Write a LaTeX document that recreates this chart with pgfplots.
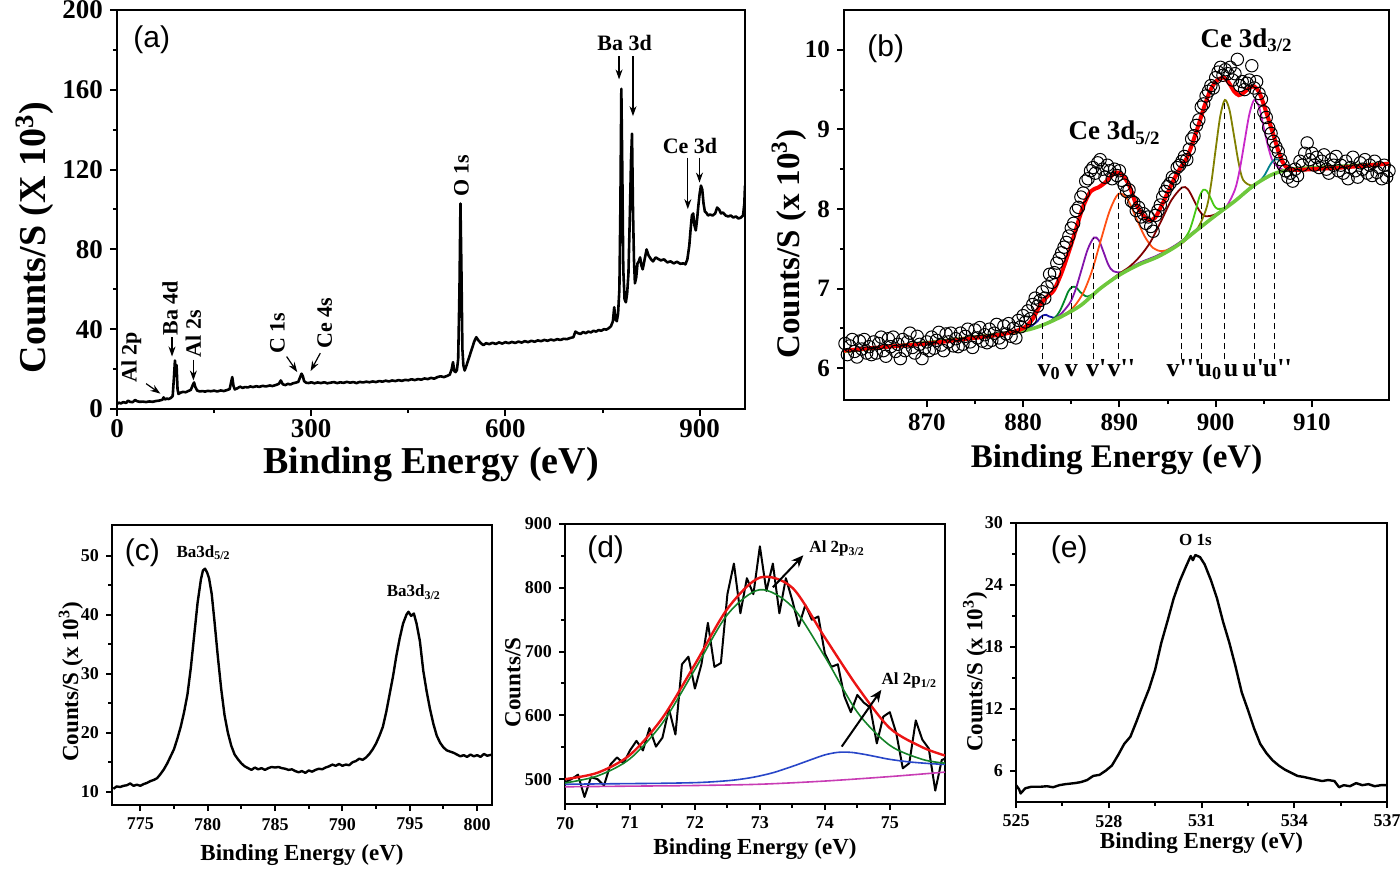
\documentclass[border=0pt]{standalone}
\usepackage{fontspec}
\setmainfont{Liberation Serif}
\newfontfamily\sansf{Liberation Sans}
\usepackage{pgfplots}
\pgfplotsset{compat=1.18}
\usetikzlibrary{arrows.meta}
\definecolor{cRed}{RGB}{255,0,0}
\definecolor{cNavy}{RGB}{20,20,170}
\definecolor{cDGreen}{RGB}{0,135,40}
\definecolor{cPurple}{RGB}{130,20,170}
\definecolor{cOrange}{RGB}{255,80,20}
\definecolor{cBrown}{RGB}{128,0,0}
\definecolor{cLGreen}{RGB}{70,200,20}
\definecolor{cOlive}{RGB}{128,128,0}
\definecolor{cMagenta}{RGB}{200,40,200}
\definecolor{cTeal}{RGB}{0,128,140}
\definecolor{cBkg}{RGB}{110,200,60}
\definecolor{dRed}{RGB}{235,20,20}
\definecolor{dGreen}{RGB}{20,130,40}
\definecolor{dBlue}{RGB}{40,70,200}
\definecolor{dMag}{RGB}{200,60,180}
\pgfplotsset{
  xps/.style={
    scale only axis, axis line style={line width=1.3pt},
    tick align=outside, xtick pos=bottom, ytick pos=left,
    major tick length=3.5pt, minor tick length=2pt,
    tick style={black, line width=1pt},
    minor tick num=1,
    /pgf/number format/assume math mode=true,
    /pgf/number format/1000 sep={},
    xlabel style={anchor=center},
    ylabel style={anchor=center},
  },
  top/.style={xps,
    tick label style={font=\bfseries\fontsize{13.5}{13.5}\selectfont},
  },
  bot/.style={xps, axis line style={line width=1.2pt},
    major tick length=3pt, minor tick length=1.8pt,
    tick label style={font=\bfseries\fontsize{9}{9}\selectfont},
    label style={font=\bfseries\fontsize{11.5}{11.5}\selectfont},
  },
}
\begin{document}
\begin{tikzpicture}
\path[use as bounding box] (0,0) rectangle (700pt,434.5pt);
% ---------------- (a) ----------------
\begin{axis}[top, anchor=south west, at={(58.5pt,230pt)}, width=314pt, height=199.5pt,
  xmin=0, xmax=970, ymin=0, ymax=200,
  xtick={0,300,600,900}, ytick={0,40,80,120,160,200},
  xticklabel style={yshift=2pt},
  xlabel={Binding Energy (eV)}, ylabel={Counts/S (X 10\textsuperscript{3})},
  xlabel style={at={(axis description cs:0.5,-0.138)}},
  ylabel style={at={(axis description cs:-0.131,0.43)}},
  label style={font=\bfseries\fontsize{19}{19}\selectfont},
]
\addplot[black, line width=1.3pt, line join=round] coordinates {
(0,2.5)(3,3.2)(6,2.8)(10,3.5)(14,3.0)(17,4.2)(20,3.6)(24,3.4)(28,4.5)(31,3.9)(35,3.6)(40,3.7)(45,3.5)(50,3.8)(55,3.6)(60,4.0)(65,4.2)(70,4.6)(72,5.8)(74,4.8)(77,5.2)(80,5.0)(83,5.5)(86,6.5)(88,16)(89.5,24.3)(91,18)(92,22)(93.5,10)(95,7.5)(98,8.2)(102,8.6)(106,8.4)(110,9.0)(114,9.6)(117,12.0)(119,13.3)(121,11.0)(124,9.2)(128,8.8)(132,9.0)(136,8.7)(140,9.1)(145,8.9)(150,9.2)(155,8.8)(160,9.3)(165,9.0)(170,9.5)(174,10.0)(176,13.0)(178,16.0)(180,11.5)(182,9.8)(186,10.4)(190,11.2)(194,10.6)(198,11.0)(202,10.8)(206,11.3)(210,11.0)(215,11.4)(220,11.1)(225,11.6)(230,11.3)(236,11.8)(240,11.5)(245,12.0)(250,12.6)(253,14.3)(256,12.4)(260,12.0)(264,12.6)(268,12.3)(272,12.9)(276,13.2)(280,13.6)(283,16.0)(285,17.7)(287,16.5)(289,14.0)(292,13.2)(296,13.0)(300,13.4)(305,12.9)(310,13.3)(315,13.0)(320,13.4)(325,12.9)(330,13.2)(335,13.5)(340,13.0)(345,13.4)(350,13.1)(355,13.6)(360,13.2)(365,13.5)(370,13.0)(375,13.6)(380,13.3)(385,13.7)(390,13.4)(395,13.8)(400,13.5)(405,14.0)(410,13.7)(415,14.2)(420,13.8)(425,14.3)(430,14.0)(435,14.5)(440,14.1)(445,14.6)(450,14.4)(455,14.9)(460,14.5)(465,15.0)(470,14.7)(475,15.3)(480,15.0)(485,15.6)(490,15.2)(495,16.0)(500,16.4)(505,16.0)(510,16.6)(514,17.2)(517,20.0)(519,23.5)(521,19.0)(523,18.5)(525,19.5)(527,25.0)(529,60.0)(530.5,103.0)(532,70.0)(533.5,30.0)(535,22.0)(537,19.3)(540,22.0)(543,25.0)(546,28.0)(549,31.0)(552,34.0)(555,36.0)(558,34.5)(562,33.0)(566,32.0)(570,33.0)(575,32.5)(580,33.2)(585,32.6)(590,33.4)(595,32.8)(600,33.5)(605,33.0)(610,33.6)(615,33.1)(620,33.8)(625,33.3)(630,34.0)(635,33.5)(640,34.2)(645,33.7)(650,34.4)(655,34.0)(660,34.6)(665,34.2)(670,34.8)(675,34.4)(680,35.0)(685,34.6)(690,35.2)(695,35.0)(700,35.6)(705,36.0)(708,38.8)(712,38.0)(716,37.6)(720,38.6)(724,38.0)(728,38.8)(732,38.4)(736,39.2)(740,38.8)(744,39.6)(748,39.2)(752,40.0)(756,39.8)(760,40.6)(763,41.5)(766,44.0)(768,51.0)(770,45.0)(772,44.0)(774,48.0)(776,60.0)(777.5,100.0)(779,160.5)(780.5,120.0)(782,70.0)(784,55.0)(786,53.5)(788,58.0)(790,68.0)(792,95.0)(794,125.0)(795.5,138.0)(797,100.0)(798.5,75.0)(800,63.0)(802,66.0)(804,73.0)(806,74.0)(808,76.0)(810,72.0)(812,70.0)(815,75.0)(818,80.0)(821,77.0)(825,75.0)(828,74.0)(832,76.0)(836,75.2)(840,74.5)(845,75.0)(850,73.5)(855,74.0)(860,73.0)(865,73.8)(870,72.8)(875,73.0)(878,72.5)(881,75.0)(884,82.0)(886,90.0)(888,97.0)(890,98.0)(892,92.0)(894,89.5)(896,95.0)(898,102.0)(900,108.0)(902,112.0)(904,110.0)(906,103.0)(908,99.0)(910,98.5)(913,97.0)(916,97.5)(920,97.0)(924,98.0)(927,101.0)(930,100.0)(933,98.0)(936,98.5)(940,97.0)(944,96.5)(948,97.0)(952,96.0)(956,96.5)(960,95.5)(964,96.0)(967,97.0)(969,103.0)(970,112.0)
};
\tikzset{ann/.style={font=\bfseries\fontsize{11}{11}\selectfont}, arr/.style={-{Stealth[length=5pt,width=3.5pt]}, line width=0.6pt}}
\node[ann, rotate=90] at (axis cs:22,26) {Al 2p};
\draw[arr] (axis cs:45,12.7) -- (axis cs:67,7.7);
\node[ann, rotate=90] at (axis cs:82,50.5) {Ba 4d};
\draw[arr] (axis cs:85,36) -- (axis cs:85,26.3);
\node[ann, rotate=90] at (axis cs:118,37.7) {Al 2s};
\draw[arr] (axis cs:118,24.7) -- (axis cs:118,14.3);
\node[ann, rotate=90] at (axis cs:248,38) {C 1s};
\draw[arr] (axis cs:262,26.3) -- (axis cs:278.4,18.5);
\node[ann, rotate=90] at (axis cs:321,43) {Ce 4s};
\draw[arr] (axis cs:314,28) -- (axis cs:299,19);
\node[ann, rotate=90] at (axis cs:532,117) {O 1s};
\node[ann] at (axis cs:784,183.5) {Ba 3d};
\draw[arr] (axis cs:775.5,176.8) -- (axis cs:775.5,165.2);
\draw[arr] (axis cs:797,176.8) -- (axis cs:797,146.8);
\node[ann] at (axis cs:885,132) {Ce 3d};
\draw[arr] (axis cs:881.7,126) -- (axis cs:881.7,100.2);
\draw[arr] (axis cs:899.7,126) -- (axis cs:899.7,113.5);
\node[anchor=west, font=\sansf\fontsize{15}{15}\selectfont] at (rel axis cs:0.015,0.925) {(a)};
\end{axis}
% ---------------- (b) ----------------
\begin{axis}[top, anchor=south west, at={(422pt,234.5pt)}, width=272.5pt, height=195pt,
  xmin=861.4, xmax=918, ymin=5.6, ymax=10.5,
  xtick={870,880,890,900,910}, ytick={6,7,8,9,10},
  tick label style={font=\bfseries\fontsize{12.5}{12.5}\selectfont},
  xlabel={Binding Energy (eV)}, ylabel={Counts/S (x 10\textsuperscript{3})},
  xlabel style={at={(axis description cs:0.5,-0.154)}},
  ylabel style={at={(axis description cs:-0.101,0.40)}},
  label style={font=\bfseries\fontsize{16.5}{16.5}\selectfont},
]
\addplot[only marks, mark=o, mark size=3.1pt, mark options={line width=0.5pt, black}] coordinates {
(861.50,6.31)(861.75,6.17)(862.00,6.28)(862.25,6.36)(862.50,6.21)(862.75,6.14)(863.00,6.34)(863.25,6.24)(863.50,6.36)(863.75,6.19)(864.00,6.27)(864.25,6.17)(864.50,6.33)(864.75,6.19)(865.00,6.31)(865.25,6.39)(865.50,6.22)(865.75,6.15)(866.00,6.37)(866.25,6.27)(866.50,6.39)(866.75,6.21)(867.00,6.30)(867.25,6.12)(867.50,6.36)(867.75,6.22)(868.00,6.33)(868.25,6.44)(868.50,6.26)(868.75,6.19)(869.00,6.40)(869.25,6.30)(869.50,6.12)(869.75,6.25)(870.00,6.33)(870.25,6.22)(870.50,6.39)(870.75,6.25)(871.00,6.35)(871.25,6.45)(871.50,6.29)(871.75,6.22)(872.00,6.43)(872.25,6.33)(872.50,6.44)(872.75,6.28)(873.00,6.37)(873.25,6.27)(873.50,6.44)(873.75,6.30)(874.00,6.40)(874.25,6.49)(874.50,6.33)(874.75,6.26)(875.00,6.48)(875.25,6.38)(875.50,6.51)(875.75,6.34)(876.00,6.42)(876.25,6.32)(876.50,6.49)(876.75,6.35)(877.00,6.44)(877.25,6.55)(877.50,6.38)(877.75,6.32)(878.00,6.53)(878.25,6.43)(878.50,6.56)(878.75,6.40)(879.00,6.50)(879.25,6.38)(879.50,6.60)(879.75,6.52)(880.00,6.66)(880.25,6.58)(880.50,6.72)(880.75,6.62)(881.00,6.80)(881.25,6.88)(881.50,6.78)(881.75,6.85)(882.00,6.96)(882.25,6.88)(882.50,7.02)(882.75,7.18)(883.00,7.08)(883.25,7.20)(883.50,7.32)(883.75,7.38)(884.00,7.45)(884.25,7.52)(884.50,7.58)(884.75,7.66)(885.00,7.76)(885.25,7.82)(885.50,7.98)(885.75,8.02)(886.00,8.15)(886.25,8.20)(886.50,8.35)(886.75,8.38)(887.00,8.48)(887.25,8.52)(887.50,8.45)(887.75,8.58)(888.00,8.62)(888.25,8.50)(888.50,8.40)(888.75,8.55)(889.00,8.48)(889.25,8.38)(889.50,8.50)(889.75,8.42)(890.00,8.48)(890.25,8.36)(890.50,8.30)(890.75,8.22)(891.00,8.24)(891.25,8.10)(891.50,8.08)(891.75,7.98)(892.00,8.02)(892.25,7.90)(892.50,7.94)(892.75,7.82)(893.00,7.90)(893.25,7.78)(893.50,7.72)(893.75,7.92)(894.00,7.98)(894.25,8.05)(894.50,8.15)(894.75,8.22)(895.00,8.28)(895.25,8.32)(895.50,8.40)(895.75,8.38)(896.00,8.52)(896.25,8.55)(896.50,8.60)(896.75,8.66)(897.00,8.62)(897.25,8.75)(897.50,8.88)(897.75,8.92)(898.00,9.05)(898.25,9.12)(898.50,9.28)(898.75,9.32)(899.00,9.42)(899.25,9.48)(899.50,9.55)(899.75,9.52)(900.00,9.65)(900.25,9.72)(900.50,9.78)(900.75,9.68)(901.00,9.75)(901.25,9.70)(901.50,9.78)(901.75,9.62)(902.00,9.70)(902.25,9.88)(902.50,9.55)(902.75,9.60)(903.00,9.50)(903.25,9.58)(903.50,9.62)(903.75,9.80)(904.00,9.52)(904.25,9.60)(904.50,9.45)(904.75,9.38)(905.00,9.22)(905.25,9.15)(905.50,9.02)(905.75,8.95)(906.00,8.85)(906.25,8.78)(906.50,8.72)(906.75,8.62)(907.00,8.55)(907.25,8.48)(907.50,8.40)(907.75,8.45)(908.00,8.35)(908.25,8.50)(908.50,8.42)(908.75,8.60)(909.00,8.55)(909.25,8.70)(909.50,8.83)(909.75,8.62)(910.00,8.70)(910.25,8.55)(910.50,8.65)(910.75,8.52)(911.00,8.60)(911.25,8.68)(911.50,8.50)(911.75,8.45)(912.00,8.62)(912.25,8.55)(912.50,8.66)(912.75,8.48)(913.00,8.55)(913.25,8.45)(913.50,8.60)(913.75,8.38)(914.00,8.52)(914.25,8.65)(914.50,8.48)(914.75,8.40)(915.00,8.58)(915.25,8.50)(915.50,8.62)(915.75,8.45)(916.00,8.55)(916.25,8.42)(916.50,8.60)(916.75,8.46)(917.00,8.52)(917.25,8.38)(917.50,8.55)(917.75,8.40)(918.00,8.48)
};
% components
\addplot[cNavy, line width=0.9pt, smooth] coordinates {(879.5,6.46)(880.3,6.48)(880.9,6.53)(881.2,6.56)(881.5,6.59)(881.8,6.64)(882.1,6.665)(882.4,6.67)(882.7,6.65)(883.0,6.64)(883.3,6.63)(883.9,6.64)(884.5,6.68)};
\addplot[cDGreen, line width=0.9pt, smooth] coordinates {(881.5,6.52)(882.7,6.58)(883.5,6.66)(883.9,6.74)(884.3,6.85)(884.7,6.965)(885.1,7.02)(885.5,7.015)(885.9,6.96)(886.3,6.92)(886.7,6.90)(887.5,6.95)(888.5,7.05)};
\addplot[cPurple, line width=0.9pt, smooth] coordinates {(881.5,6.52)(883.45,6.63)(884.75,6.80)(885.4,6.97)(886.05,7.23)(886.7,7.49)(887.35,7.64)(887.85,7.61)(888.35,7.46)(888.85,7.30)(889.35,7.22)(890.35,7.21)(892,7.32)(894,7.42)(896,7.56)(898,7.74)};
\addplot[cOrange, line width=0.9pt, smooth] coordinates {(883,6.60)(884.5,6.69)(885.4,6.79)(886.3,6.96)(887.2,7.24)(888.1,7.62)(889.0,7.98)(889.9,8.19)(890.8,8.13)(891.7,7.90)(892.6,7.66)(893.5,7.51)(894.4,7.47)(895.3,7.50)(896.5,7.57)(898,7.74)};
\addplot[cBrown, line width=0.9pt, smooth] coordinates {(886,6.79)(888,7.00)(889.9,7.18)(891.0,7.27)(892.1,7.40)(893.2,7.58)(894.3,7.84)(895.4,8.11)(896.5,8.27)(897.1,8.25)(897.7,8.12)(898.3,7.98)(898.9,7.91)(900.1,7.94)(902,8.10)};
\addplot[cLGreen, line width=0.9pt, smooth] coordinates {(895,7.48)(896.45,7.585)(897.2,7.71)(897.575,7.836)(897.95,7.993)(898.325,8.157)(898.7,8.24)(899.075,8.227)(899.45,8.143)(899.825,8.046)(900.2,8.001)(900.95,8.015)(902,8.10)};
\addplot[cOlive, line width=0.9pt, smooth] coordinates {(896.5,7.58)(898.1,7.755)(899.05,8.015)(899.525,8.315)(900.0,8.752)(900.475,9.168)(900.95,9.37)(901.425,9.248)(901.9,8.922)(902.375,8.585)(902.85,8.365)(903.8,8.295)(905,8.38)};
\addplot[cMagenta, line width=0.9pt, smooth] coordinates {(899.5,7.87)(901,8.012)(902,8.244)(902.5,8.498)(903,8.849)(903.5,9.194)(904,9.37)(904.5,9.284)(905,9.019)(905.5,8.758)(906,8.584)(907,8.492)(908,8.50)};
\addplot[cTeal, line width=0.9pt, smooth] coordinates {(902,8.10)(904.1,8.30)(904.8,8.38)(905.15,8.44)(905.5,8.52)(905.85,8.59)(906.2,8.625)(906.55,8.62)(906.9,8.58)(907.25,8.54)(907.6,8.51)(908.3,8.50)(910,8.52)};
% background
\addplot[cBkg, line width=1.8pt, smooth] coordinates {(861.4,6.21)(866,6.27)(870,6.32)(875,6.39)(880,6.47)(882,6.54)(884,6.65)(886,6.79)(888,7.00)(890,7.17)(892,7.30)(894,7.40)(896,7.54)(898,7.73)(900,7.92)(902,8.10)(904,8.30)(906,8.44)(908,8.50)(912,8.53)(918,8.57)};
% envelope
\addplot[cRed, line width=2pt, smooth] coordinates {(861.4,6.22)(865,6.26)(870,6.31)(875,6.38)(878,6.43)(880,6.50)(881,6.62)(881.8,6.80)(882.5,6.90)(883.2,6.98)(884,7.20)(884.8,7.48)(885.5,7.75)(886.2,8.02)(887,8.22)(887.8,8.27)(888.5,8.33)(889.2,8.42)(889.7,8.46)(890.3,8.43)(891,8.30)(891.7,8.07)(892.4,7.93)(893.1,7.86)(893.7,7.89)(894.3,8.02)(895,8.20)(895.7,8.38)(896.4,8.53)(897,8.64)(897.6,8.83)(898.2,9.05)(898.8,9.28)(899.4,9.48)(900,9.60)(900.5,9.64)(900.9,9.65)(901.4,9.58)(901.9,9.48)(902.4,9.43)(902.9,9.46)(903.5,9.52)(904,9.54)(904.5,9.47)(905,9.31)(905.5,9.12)(906,8.93)(906.5,8.73)(907,8.58)(907.5,8.51)(908.2,8.49)(910,8.50)(913,8.52)(918,8.57)};
% dashed markers
\addplot[black, densely dashed, line width=0.5pt] coordinates {(882.0,6.11)(882.0,6.67)};
\addplot[black, densely dashed, line width=0.5pt] coordinates {(885.0,6.11)(885.0,7.03)};
\addplot[black, densely dashed, line width=0.5pt] coordinates {(887.3,6.11)(887.3,7.64)};
\addplot[black, densely dashed, line width=0.5pt] coordinates {(889.9,6.11)(889.9,8.20)};
\addplot[black, densely dashed, line width=0.5pt] coordinates {(896.5,6.11)(896.5,8.27)};
\addplot[black, densely dashed, line width=0.5pt] coordinates {(898.5,6.11)(898.5,8.20)};
\addplot[black, densely dashed, line width=0.5pt] coordinates {(900.9,6.11)(900.9,9.37)};
\addplot[black, densely dashed, line width=0.5pt] coordinates {(904.05,6.11)(904.05,9.37)};
\addplot[black, densely dashed, line width=0.5pt] coordinates {(906.1,6.11)(906.1,8.62)};
\tikzset{vl/.style={anchor=base, inner sep=0pt, font=\bfseries\fontsize{13}{13}\selectfont}}
\node[vl] at (axis cs:882.7,5.90) {v\textsubscript{0}};
\node[vl] at (axis cs:885.0,5.90) {v};
\node[vl] at (axis cs:887.6,5.90) {v\textquotesingle};
\node[vl] at (axis cs:890.2,5.90) {v\textquotesingle\textquotesingle};
\node[vl] at (axis cs:896.7,5.90) {v\textquotesingle\textquotesingle\textquotesingle};
\node[vl] at (axis cs:899.4,5.90) {u\textsubscript{0}};
\node[vl] at (axis cs:901.6,5.90) {u};
\node[vl] at (axis cs:903.9,5.90) {u\textquotesingle};
\node[vl] at (axis cs:906.4,5.90) {u\textquotesingle\textquotesingle};
\node[anchor=base, font=\bfseries\fontsize{13.5}{13.5}\selectfont] at (axis cs:889.5,8.87) {Ce 3d\textsubscript{5/2}};
\node[anchor=base, font=\bfseries\fontsize{13.5}{13.5}\selectfont] at (axis cs:903.2,10.03) {Ce 3d\textsubscript{3/2}};
\node[anchor=west, font=\sansf\fontsize{15}{15}\selectfont] at (rel axis cs:0.03,0.9) {(b)};
\end{axis}
% ---------------- (c) ----------------
\begin{axis}[bot, anchor=south west, at={(56pt,32pt)}, width=190pt, height=140pt,
  xmin=772.9, xmax=801.1, ymin=7.75, ymax=55.2,
  xtick={775,780,785,790,795,800}, ytick={10,20,30,40,50},
  xlabel={Binding Energy (eV)}, ylabel={Counts/S (x 10\textsuperscript{3})},
  xlabel style={at={(axis description cs:0.5,-0.18)}},
  ylabel style={at={(axis description cs:-0.108,0.44)}},
]
\addplot[black, line width=1.2pt, line join=round] coordinates {
(773.0,10.5)(773.25,10.9)(773.5,10.8)(773.75,11.0)(774.0,11.1)(774.25,11.4)(774.5,11.0)(774.75,11.2)(775.0,11.0)(775.25,11.3)(775.5,11.5)(775.75,11.8)(776.0,12.0)(776.25,12.3)(776.5,13.0)(776.75,13.8)(777.0,14.8)(777.25,16.0)(777.5,17.2)(777.75,19.0)(778.0,21.0)(778.25,23.5)(778.5,26.5)(778.75,31.0)(779.0,36.5)(779.25,42.0)(779.5,46.0)(779.65,47.5)(779.8,47.8)(779.95,47.2)(780.1,46.2)(780.3,43.5)(780.5,39.0)(780.75,33.0)(781.0,27.5)(781.25,23.0)(781.5,20.0)(781.75,17.8)(782.0,16.3)(782.25,15.5)(782.5,14.8)(782.75,14.3)(783.0,14.0)(783.25,13.7)(783.5,14.1)(783.75,13.8)(784.0,14.0)(784.25,13.7)(784.5,14.0)(784.75,14.2)(785.0,14.1)(785.25,14.2)(785.5,14.0)(785.75,13.9)(786.0,13.7)(786.25,13.8)(786.5,13.5)(786.75,13.3)(787.0,13.5)(787.25,13.2)(787.5,13.6)(787.75,13.4)(788.0,13.7)(788.25,13.9)(788.5,13.8)(788.75,14.1)(789.0,14.3)(789.25,14.6)(789.5,14.4)(789.75,14.7)(790.0,14.4)(790.25,14.6)(790.5,14.5)(790.75,15.0)(791.0,15.2)(791.25,15.6)(791.5,15.4)(791.75,15.8)(792.0,16.4)(792.25,17.2)(792.5,18.2)(792.75,19.5)(793.0,21.0)(793.25,23.5)(793.5,26.5)(793.75,29.5)(794.0,33.0)(794.25,36.0)(794.5,38.5)(794.75,40.0)(794.9,40.5)(795.1,39.8)(795.3,40.2)(795.5,38.5)(795.75,35.5)(796.0,30.5)(796.25,27.0)(796.5,24.0)(796.75,21.5)(797.0,19.5)(797.25,18.3)(797.5,17.5)(797.75,17.0)(798.0,16.8)(798.25,16.6)(798.5,16.3)(798.75,16.0)(799.0,16.2)(799.25,15.9)(799.5,16.3)(799.75,16.0)(800.0,16.2)(800.25,15.9)(800.5,16.4)(800.75,16.1)(801.1,16.3)
};
\node[anchor=base, font=\bfseries\fontsize{8.5}{8.5}\selectfont] at (axis cs:779.7,49.7) {Ba3d\textsubscript{5/2}};
\node[anchor=base, font=\bfseries\fontsize{8.5}{8.5}\selectfont] at (axis cs:795.3,43.05) {Ba3d\textsubscript{3/2}};
\node[anchor=west, font=\sansf\fontsize{15}{15}\selectfont] at (rel axis cs:0.015,0.9) {(c)};
\end{axis}
% ---------------- (d) ----------------
\begin{axis}[bot, anchor=south west, at={(282.5pt,32.5pt)}, width=190pt, height=140pt,
  xmin=70, xmax=75.85, ymin=461, ymax=900,
  xtick={70,71,72,73,74,75}, ytick={500,600,700,800,900},
  xlabel={Binding Energy (eV)}, ylabel={Counts/S},
  xlabel style={at={(axis description cs:0.5,-0.16)}},
  ylabel style={at={(axis description cs:-0.137,0.434)}},
]
\addplot[black, line width=1pt, line join=round] coordinates {
(70.0,495)(70.1,500)(70.2,507)(70.3,472)(70.4,503)(70.5,500)(70.6,490)(70.7,523)(70.8,534)(70.9,525)(71.0,545)(71.1,560)(71.2,545)(71.3,580)(71.4,551)(71.5,565)(71.6,610)(71.7,570)(71.8,680)(71.9,692)(72.0,642)(72.1,680)(72.2,745)(72.3,676)(72.4,682)(72.5,790)(72.6,838)(72.7,760)(72.8,815)(72.9,790)(73.0,865)(73.1,795)(73.2,838)(73.3,760)(73.4,815)(73.5,780)(73.6,740)(73.7,773)(73.8,750)(73.9,755)(74.0,697)(74.1,676)(74.2,680)(74.3,630)(74.4,605)(74.5,632)(74.6,620)(74.7,612)(74.8,556)(74.9,598)(75.0,605)(75.1,572)(75.2,517)(75.3,525)(75.4,592)(75.5,562)(75.6,548)(75.7,482)(75.8,530)(75.85,532)
};
\addplot[dMag, line width=0.8pt, smooth] coordinates {(70,488)(71,489)(72,490)(73,492)(74,497)(75,504)(75.85,511)};
\addplot[dBlue, line width=0.8pt, smooth] coordinates {(70,492)(71,493)(71.5,493.5)(72,494.5)(72.3,496)(72.6,498.5)(72.9,503)(73.2,510)(73.5,520)(73.8,531)(74.0,538)(74.2,542)(74.4,542)(74.6,539)(74.8,535)(75,531)(75.3,527)(75.6,524.5)(75.85,523)};
\addplot[dGreen, line width=0.8pt, smooth] coordinates {(70,494)(70.5,505)(71,532)(71.5,588)(72,672)(72.5,758)(73,797)(73.5,770)(74,692)(74.5,605)(75,553)(75.5,531)(75.85,525)};
\addplot[dRed, line width=1.2pt, smooth] coordinates {(70,500)(70.5,510)(71,538)(71.5,596)(72,680)(72.5,767)(73,816)(73.5,800)(74,722)(74.5,645)(75,580)(75.5,550)(75.85,537)};
\draw[-{Stealth[length=6pt,width=5pt]}, line width=1pt] (axis cs:73.2,800.8) -- (axis cs:73.67,851);
\draw[-{Stealth[length=6pt,width=5pt]}, line width=1pt] (axis cs:74.26,551) -- (axis cs:74.87,640);
\node[anchor=base, font=\bfseries\fontsize{8.5}{8.5}\selectfont] at (axis cs:74.19,855) {Al 2p\textsubscript{3/2}};
\node[anchor=base, font=\bfseries\fontsize{8.5}{8.5}\selectfont] at (axis cs:75.3,647.8) {Al 2p\textsubscript{1/2}};
\node[anchor=west, font=\sansf\fontsize{15}{15}\selectfont] at (rel axis cs:0.04,0.907) {(d)};
\end{axis}
% ---------------- (e) ----------------
\begin{axis}[bot, anchor=south west, at={(508pt,33.5pt)}, width=185.5pt, height=139.5pt,
  xmin=525, xmax=537, ymin=2.97, ymax=30,
  xtick={525,528,531,534,537}, ytick={6,12,18,24,30},
  xlabel={Binding Energy (eV)}, ylabel={Counts/S (x 10\textsuperscript{3})},
  xlabel style={at={(axis description cs:0.5,-0.147)}},
  ylabel style={at={(axis description cs:-0.11,0.466)}},
]
\addplot[black, line width=1.2pt, line join=round] coordinates {
(525.0,4.6)(525.1,4.2)(525.15,3.8)(525.3,4.3)(525.5,4.45)(525.8,4.45)(526.0,4.5)(526.2,4.4)(526.4,4.6)(526.6,4.7)(526.9,4.8)(527.1,4.9)(527.3,5.1)(527.5,5.5)(527.7,5.6)(527.9,6.0)(528.1,6.5)(528.3,7.5)(528.5,8.6)(528.7,9.3)(528.9,10.8)(529.1,12.4)(529.3,13.9)(529.5,15.8)(529.7,18.4)(529.9,20.5)(530.1,22.7)(530.3,24.4)(530.5,25.8)(530.65,26.8)(530.72,26.4)(530.8,26.9)(530.95,26.7)(531.1,26.0)(531.3,24.5)(531.5,22.7)(531.7,20.4)(531.9,18.4)(532.1,16.1)(532.3,13.6)(532.5,11.9)(532.7,10.1)(532.9,8.6)(533.1,7.7)(533.3,7.0)(533.5,6.5)(533.7,6.1)(533.9,5.8)(534.1,5.5)(534.3,5.4)(534.6,5.2)(534.9,5.0)(535.1,5.1)(535.3,5.0)(535.45,4.4)(535.6,4.6)(535.8,4.5)(536.0,4.8)(536.2,4.6)(536.4,4.7)(536.6,4.5)(536.8,4.6)(537.0,4.6)
};
\node[anchor=base, font=\bfseries\fontsize{8.5}{8.5}\selectfont] at (axis cs:530.8,27.83) {O 1s};
\node[anchor=west, font=\sansf\fontsize{15}{15}\selectfont] at (rel axis cs:0.075,0.903) {(e)};
\end{axis}
\end{tikzpicture}
\end{document}
